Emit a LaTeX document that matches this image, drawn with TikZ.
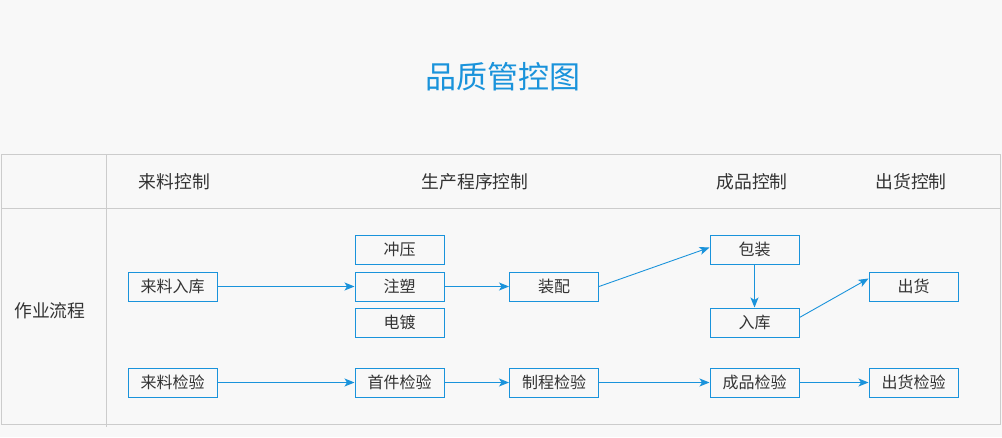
\documentclass[tikz,border=0pt]{standalone}
\usepackage{fontspec}
\setmainfont{Noto Sans CJK SC}
\usetikzlibrary{arrows.meta}
\definecolor{bl}{HTML}{1A93DB}
\definecolor{bg}{HTML}{F8F8F8}
\definecolor{grid}{HTML}{CCCCCC}
\definecolor{txt}{HTML}{333333}
\begin{document}
\begin{tikzpicture}[x=1pt,y=-1pt,
  box/.style={draw=bl,line width=1pt,fill=bg,minimum width=89pt,minimum height=29pt,inner sep=0pt,font=\fontsize{16}{18}\selectfont,text=txt},
  head/.style={font=\fontsize{17.8}{20}\selectfont,text=txt},
  flow/.style={draw=bl,line width=0.9pt,-{Stealth[length=10pt,width=8pt,inset=2.5pt]}}]
\fill[bg] (0,0) rectangle (1002,437);
\useasboundingbox (0,0) rectangle (1002,437);
\node[text=bl,font=\fontsize{31}{34}\selectfont] (title) at (502.5,77) {品质管控图};
\draw[grid,line width=1pt] (1.5,154.5) rectangle (1000.5,424.5);
\draw[grid,line width=1pt] (1.5,208.5) -- (1000.5,208.5);
\draw[grid,line width=1pt] (106.5,154.5) -- (106.5,427);
\node[head] (h1) at (174.5,182) {来料控制};
\node[head] (h2) at (475,182) {生产程序控制};
\node[head] (h3) at (752,182) {成品控制};
\node[head] (h4) at (911,182) {出货控制};
\node[head] (h0) at (50,311) {作业流程};
\node[box] (lr) at (172.5,286.5) {来料入库};
\node[box] (cy) at (399.5,249.5) {冲压};
\node[box] (zs) at (399.5,286.5) {注塑};
\node[box] (dd) at (399.5,322.5) {电镀};
\node[box] (zp) at (554,286.5) {装配};
\node[box] (bz) at (754.5,249.5) {包装};
\node[box] (rk) at (754.5,322.5) {入库};
\node[box] (ch) at (913.5,286.5) {出货};
\node[box] (lj) at (172.5,382.5) {来料检验};
\node[box] (sj) at (399.5,382.5) {首件检验};
\node[box] (zj) at (554,382.5) {制程检验};
\node[box] (cj) at (754.5,382.5) {成品检验};
\node[box] (chj) at (913.5,382.5) {出货检验};
\draw[flow] (lr) -- (zs);
\draw[flow] (zs) -- (zp);
\draw[flow] (zp.east) -- ([yshift=2pt]bz.west);
\draw[flow] (bz) -- (rk);
\draw[flow] ([yshift=5pt]rk.east) -- ([yshift=8pt]ch.west);
\draw[flow] (lj) -- (sj);
\draw[flow] (sj) -- (zj);
\draw[flow] (zj) -- (cj);
\draw[flow] (cj) -- (chj);
\end{tikzpicture}
\end{document}
